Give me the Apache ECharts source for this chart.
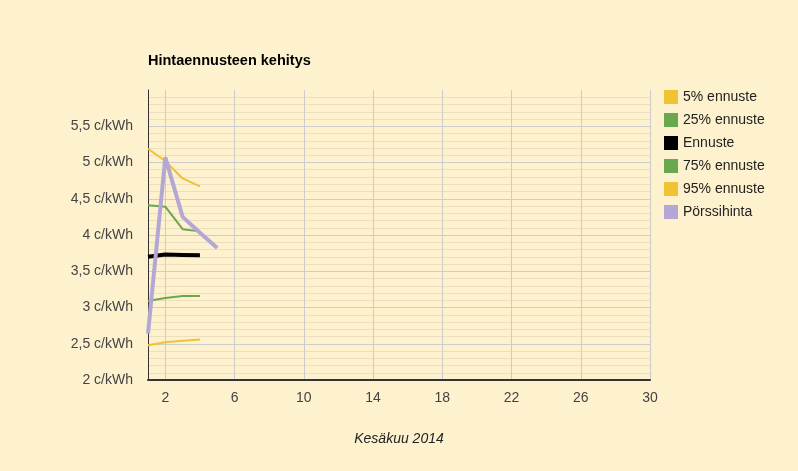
<!DOCTYPE html>
<html>
<head>
<meta charset="utf-8">
<script src="https://cdn.jsdelivr.net/npm/echarts@6/dist/echarts.min.js"></script>
<style>
  html, body { margin: 0; padding: 0; background: #FEF1CE; }
  #chart { width: 798px; height: 471px; }
</style>
</head>
<body>
<div id="chart"></div>
<script>
const days = [1, 2, 3, 4, 5];
const p5 = [2.48, 2.52, 2.54, 2.56];
const p25 = [3.09, 3.13, 3.16, 3.16];
const forecast = [3.70, 3.73, 3.725, 3.72];
const p75 = [4.41, 4.39, 4.08, 4.05];
const p95 = [5.19, 5.02, 4.78, 4.67];
const spot = [2.64, 5.07, 4.25, 4.03, 3.82];
const xTicks = [2, 6, 10, 14, 18, 22, 26, 30];

function pairs(values) {
  return values.map(function (v, i) { return [days[i], v]; });
}

function lineSeries(name, values, color, width) {
  return {
    name: name,
    type: 'line',
    data: pairs(values),
    showSymbol: false,
    lineStyle: { color: color, width: width },
    itemStyle: { color: color },
    emphasis: { disabled: true }
  };
}

// major horizontal lines 2..6, the top one (6) is not drawn
const hLineColors = ['#cccccc', '#cccccc', '#cccccc', '#cccccc', '#cccccc',
  '#cccccc', '#cccccc', '#cccccc', 'rgba(0,0,0,0)'];

const chart = echarts.init(document.getElementById('chart'));
const option = {
  animation: false,
  backgroundColor: '#FEF1CE',
  textStyle: { fontFamily: 'Liberation Sans, Arial, sans-serif' },
  title: {
    text: 'Hintaennusteen kehitys',
    left: 143,
    top: 48,
    textStyle: { fontSize: 14.5, fontWeight: 'bold', color: '#000' }
  },
  legend: {
    orient: 'vertical',
    left: 659,
    top: 85,
    icon: 'rect',
    itemWidth: 14,
    itemHeight: 14,
    itemGap: 9,
    textStyle: { fontSize: 14, color: '#222' },
    data: ['5% ennuste', '25% ennuste', 'Ennuste', '75% ennuste', '95% ennuste', 'Pörssihinta']
  },
  grid: { left: 148, right: 148, top: 90, bottom: 91 },
  xAxis: {
    type: 'value',
    min: 1,
    max: 30,
    name: 'Kesäkuu 2014',
    nameLocation: 'middle',
    nameGap: 52,
    nameTextStyle: { fontStyle: 'italic', fontSize: 14, color: '#222' },
    axisLine: { show: true, lineStyle: { color: '#333', width: 2 } },
    axisTick: { show: false, customValues: xTicks },
    axisLabel: { customValues: xTicks, color: '#444', fontSize: 14, margin: 11 },
    splitLine: { show: true, lineStyle: { color: '#cccccc', width: 1 } }
  },
  yAxis: {
    type: 'value',
    min: 2,
    max: 6,
    interval: 0.5,
    axisLine: { show: true, lineStyle: { color: '#333', width: 1 } },
    axisTick: { show: false },
    axisLabel: {
      color: '#444',
      fontSize: 14,
      margin: 15,
      formatter: function (v) {
        if (v >= 6) return '';
        return String(v).replace('.', ',') + ' c/kWh';
      }
    },
    splitLine: { show: true, lineStyle: { color: hLineColors, width: 1 } },
    minorTick: { show: false, splitNumber: 5 },
    minorSplitLine: { show: true, lineStyle: { color: '#ebdfc0', width: 1 } }
  },
  series: [
    lineSeries('5% ennuste', p5, '#F1C232', 2),
    lineSeries('25% ennuste', p25, '#6AA84F', 2),
    lineSeries('Ennuste', forecast, '#000000', 4),
    lineSeries('75% ennuste', p75, '#6AA84F', 2),
    lineSeries('95% ennuste', p95, '#F1C232', 2),
    lineSeries('Pörssihinta', spot, '#B4A7D6', 4)
  ]
};
chart.setOption(option);
</script>
</body>
</html>
